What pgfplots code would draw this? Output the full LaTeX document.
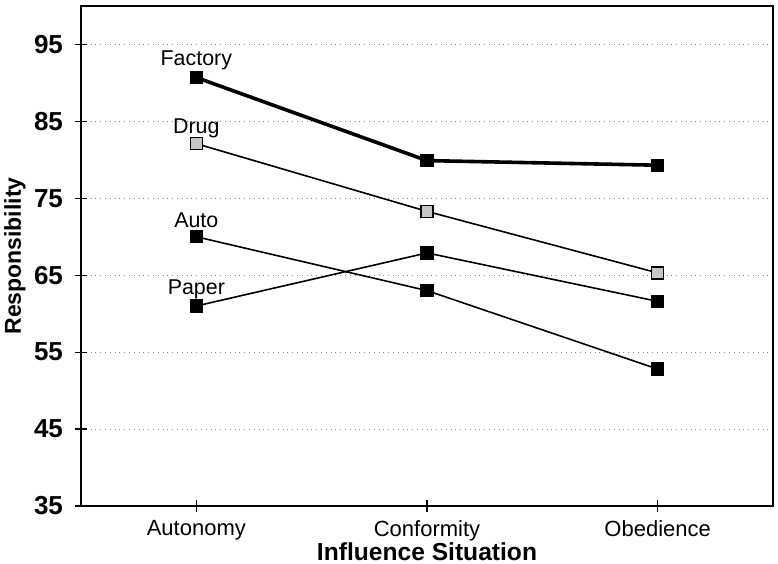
\documentclass[border=0pt]{standalone}
\usepackage{fontspec}
\setmainfont{Liberation Sans}
\usepackage{pgfplots}
\pgfplotsset{compat=1.18}
\usetikzlibrary{calc}
\begin{document}
\begin{tikzpicture}
\begin{axis}[
  scale only axis,
  width=346pt, height=250pt,
  xmin=0.5, xmax=3.5,
  ymin=35, ymax=100,
  xtick={1,2,3},
  xticklabels={Autonomy,Conformity,Obedience},
  ytick={35,45,55,65,75,85,95},
  xtick pos=bottom, ytick pos=left,
  tick align=center,
  major tick length=6pt,
  tick style={black, line width=0.6pt},
  axis line style={black, line width=0.8pt},
  ymajorgrids,
  grid style={dotted, gray!90, line width=0.5pt},
  /pgf/number format/assume math mode=true,
  yticklabel style={font=\bfseries\fontsize{13}{15}\selectfont, xshift=-2.5pt},
  xticklabel style={font=\fontsize{11}{13}\selectfont, yshift=-0.8pt},
  xlabel={Influence Situation},
  ylabel={Responsibility},
  xlabel style={font=\bfseries\fontsize{12.3}{14}\selectfont, at={(axis description cs:0.5,-0.092)}, anchor=center},
  ylabel style={font=\bfseries\fontsize{11.5}{14}\selectfont, at={(axis description cs:-0.0954,0.5)}, anchor=center},
  clip=false,
  mark size=3pt,
]
\addplot[black, line width=1.8pt, mark=square*, mark options={fill=black, line width=0.6pt}]
  coordinates {(1,90.7) (2,79.9) (3,79.3)};
\addplot[black, line width=0.8pt, mark=square*, mark options={fill=gray!45, draw=black, line width=0.8pt}]
  coordinates {(1,82.1) (2,73.3) (3,65.3)};
\addplot[black, line width=0.8pt, mark=square*, mark options={fill=black, line width=0.6pt}]
  coordinates {(1,70.0) (2,63.0) (3,52.8)};
\addplot[black, line width=0.8pt, mark=square*, mark options={fill=black, line width=0.6pt}]
  coordinates {(1,61.0) (2,67.9) (3,61.6)};
\node[font=\fontsize{10.7}{12}\selectfont] at (axis cs:1,92.9) {Factory};
\node[font=\fontsize{10.7}{12}\selectfont] at (axis cs:1,84.1) {Drug};
\node[font=\fontsize{10.7}{12}\selectfont] at (axis cs:1,72.2) {Auto};
\node[font=\fontsize{10.7}{12}\selectfont] at (axis cs:1,63.1) {Paper};
\end{axis}
\pgfresetboundingbox
\path[use as bounding box] ($(current axis.south west)+(-40.5pt,-29pt)$) rectangle ($(current axis.north east)+(2.5pt,3pt)$);
\end{tikzpicture}
\end{document}
